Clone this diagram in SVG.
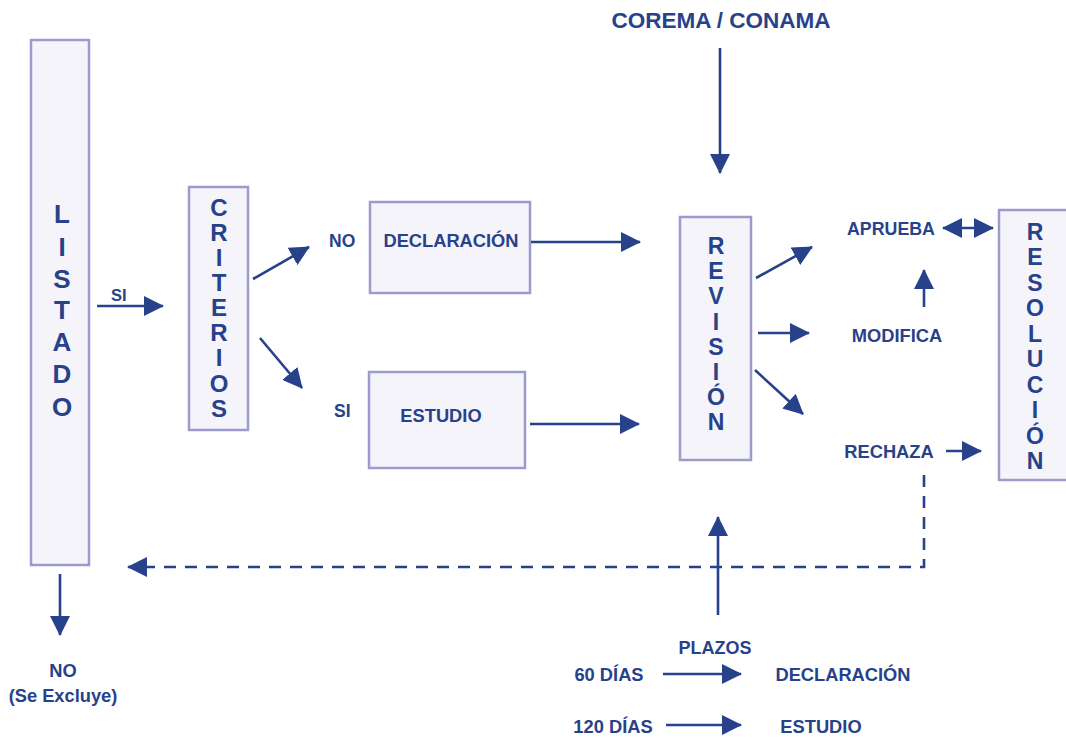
<svg xmlns="http://www.w3.org/2000/svg" width="1066" height="739" viewBox="0 0 1066 739">
<style>
.box{fill:#f4f4fa;stroke:#9c9ccc;stroke-width:2.5}
text{font-family:"Liberation Sans",Arial,sans-serif;font-weight:bold;fill:#27428a}
.v{text-anchor:middle}
.c{stroke:#27428a;stroke-width:2.6;fill:none}
.d{stroke-dasharray:12 9}
</style>
<defs>
<marker id="ah" viewBox="0 0 20 20" refX="19" refY="10" markerWidth="20" markerHeight="20" markerUnits="userSpaceOnUse" orient="auto-start-reverse">
<path d="M0,0 L20,10 L0,20 z" fill="#27428a"/>
</marker>
</defs>
<rect width="1066" height="739" fill="#ffffff"/>
<g id="listado">
<rect class="box" x="31" y="40" width="58" height="525"/>
<text class="v" font-size="26" x="62"><tspan x="62" y="223">L</tspan><tspan x="62" y="256">I</tspan><tspan x="62" y="288">S</tspan><tspan x="62" y="319">T</tspan><tspan x="62" y="351">A</tspan><tspan x="62" y="383">D</tspan><tspan x="62" y="416">O</tspan></text>
</g>
<g id="criterios">
<rect class="box" x="189" y="187" width="59" height="243"/>
<text class="v" font-size="24" x="219"><tspan x="219" y="216">C</tspan><tspan x="219" y="241">R</tspan><tspan x="219" y="266">I</tspan><tspan x="219" y="291">T</tspan><tspan x="219" y="316">E</tspan><tspan x="219" y="341">R</tspan><tspan x="219" y="366">I</tspan><tspan x="219" y="392">O</tspan><tspan x="219" y="417">S</tspan></text>
</g>
<g id="declaracion">
<rect class="box" x="370" y="202" width="160" height="91"/>
<text class="v" font-size="18.3" x="451" y="247">DECLARACIÓN</text>
</g>
<g id="estudio">
<rect class="box" x="369" y="372" width="156" height="96"/>
<text class="v" font-size="18.3" x="441" y="422">ESTUDIO</text>
</g>
<g id="revision">
<rect class="box" x="680" y="217" width="71" height="243"/>
<text class="v" font-size="23" x="716"><tspan x="716" y="254">R</tspan><tspan x="716" y="279">E</tspan><tspan x="716" y="304">V</tspan><tspan x="716" y="330">I</tspan><tspan x="716" y="355">S</tspan><tspan x="716" y="380">I</tspan><tspan x="716" y="405">Ó</tspan><tspan x="716" y="430">N</tspan></text>
</g>
<g id="resolucion">
<rect class="box" x="999" y="210" width="70" height="270"/>
<text class="v" font-size="23" x="1035"><tspan x="1035" y="240">R</tspan><tspan x="1035" y="265">E</tspan><tspan x="1035" y="291">S</tspan><tspan x="1035" y="316">O</tspan><tspan x="1035" y="342">L</tspan><tspan x="1035" y="367">U</tspan><tspan x="1035" y="393">C</tspan><tspan x="1035" y="418">I</tspan><tspan x="1035" y="444">Ó</tspan><tspan x="1035" y="469">N</tspan></text>
</g>
<g id="labels">
<text class="v" font-size="22.5" x="721" y="28">COREMA / CONAMA</text>
<text font-size="16.5" x="111" y="301">SI</text>
<text font-size="17.5" x="329" y="247">NO</text>
<text font-size="17.5" x="334" y="417">SI</text>
<text class="v" font-size="17.8" x="891" y="235">APRUEBA</text>
<text class="v" font-size="18.3" x="897" y="342">MODIFICA</text>
<text class="v" font-size="18.3" x="889" y="458">RECHAZA</text>
<text class="v" font-size="18" x="715" y="654">PLAZOS</text>
<text class="v" font-size="18.3" x="609" y="681">60 DÍAS</text>
<text class="v" font-size="18.3" x="843" y="681">DECLARACIÓN</text>
<text class="v" font-size="18.3" x="613" y="733">120 DÍAS</text>
<text class="v" font-size="18.3" x="821" y="733">ESTUDIO</text>
<text class="v" font-size="18.3" x="63" y="677">NO</text>
<text class="v" font-size="18.3" x="63" y="702">(Se Excluye)</text>
</g>
<g id="connectors">
<line class="c" x1="97" y1="306" x2="163" y2="306" marker-end="url(#ah)"/>
<line class="c" x1="253" y1="279" x2="309" y2="247" marker-end="url(#ah)"/>
<line class="c" x1="260" y1="338" x2="302" y2="388" marker-end="url(#ah)"/>
<line class="c" x1="531" y1="242" x2="640" y2="242" marker-end="url(#ah)"/>
<line class="c" x1="530" y1="424" x2="639" y2="424" marker-end="url(#ah)"/>
<line class="c" x1="720" y1="48" x2="720" y2="173" marker-end="url(#ah)"/>
<line class="c" x1="756" y1="278" x2="812" y2="247" marker-end="url(#ah)"/>
<line class="c" x1="758" y1="333" x2="809" y2="333" marker-end="url(#ah)"/>
<line class="c" x1="755" y1="370" x2="803" y2="414" marker-end="url(#ah)"/>
<line class="c" x1="943" y1="228" x2="993" y2="228" marker-start="url(#ah)" marker-end="url(#ah)"/>
<line class="c" x1="924" y1="307" x2="924" y2="270" marker-end="url(#ah)"/>
<line class="c" x1="946" y1="451" x2="981" y2="451" marker-end="url(#ah)"/>
<polyline class="c d" points="924,475 924,567 128,567" marker-end="url(#ah)"/>
<line class="c" x1="718" y1="615" x2="718" y2="517" marker-end="url(#ah)"/>
<line class="c" x1="60" y1="574" x2="60" y2="635" marker-end="url(#ah)"/>
<line class="c" x1="663" y1="674" x2="741" y2="674" marker-end="url(#ah)"/>
<line class="c" x1="666" y1="725" x2="741" y2="725" marker-end="url(#ah)"/>
</g>
</svg>
